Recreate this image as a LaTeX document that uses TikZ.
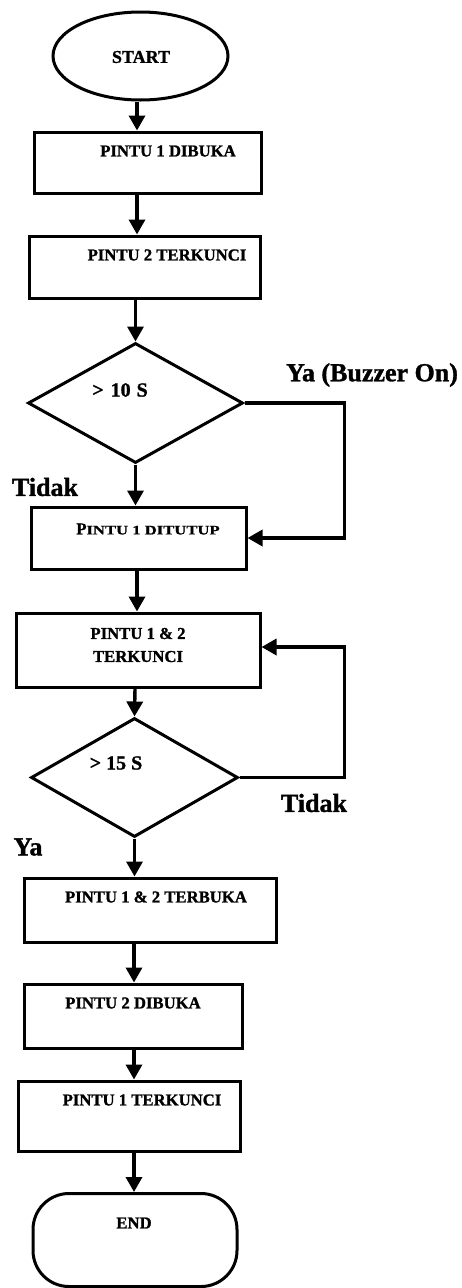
\documentclass[tikz,border=0pt]{standalone}
\usepackage{fontspec}
\setmainfont{Liberation Serif}[BoldFeatures={FakeBold=1.2}]
\newfontfamily\scfont{Liberation Serif}[FakeStretch=1.28,BoldFeatures={FakeBold=1.2}]
\usetikzlibrary{shapes.geometric,arrows.meta,calc}
\begin{document}
\begin{tikzpicture}[x=1pt,y=-1pt,
  outl/.style={draw=black,line width=3pt,inner sep=0pt},
  box/.style={outl,rectangle},
  dia/.style={outl,diamond},
  txt/.style={inner sep=0pt,font=\fontsize{16.7}{23}\selectfont\bfseries},
  dtxt/.style={inner sep=0pt,font=\fontsize{20}{24}\selectfont\bfseries},
  lbl/.style={inner sep=0pt,font=\fontsize{26}{30}\selectfont\bfseries},
  arr/.style={line width=3.4pt,-{Triangle[length=15pt,width=16pt]}}]
\useasboundingbox[fill=white] (0,0) rectangle (462,1288);

% shapes
\node[outl,ellipse,minimum width=175pt,minimum height=88pt] (start) at (140.5,56) {};
\node[box,minimum width=227pt,minimum height=61pt] (b1) at (147.5,162.5) {};
\node[box,minimum width=231pt,minimum height=62pt] (b2) at (144.5,267) {};
\node[dia,minimum width=215pt,minimum height=120pt] (d1) at (135.5,403) {};
\node[box,minimum width=215pt,minimum height=62pt] (b3) at (138.5,538) {};
\node[box,minimum width=244pt,minimum height=74pt] (b4) at (138,650) {};
\node[dia,minimum width=207pt,minimum height=119pt] (d2) at (134.5,777.5) {};
\node[box,minimum width=252pt,minimum height=64pt] (b5) at (150,910) {};
\node[box,minimum width=218pt,minimum height=64pt] (b6) at (133,1016) {};
\node[box,minimum width=222pt,minimum height=70pt] (b7) at (129,1116) {};
\node[box,rounded corners=36pt,minimum width=204pt,minimum height=93pt] (end) at (135,1240) {};

% texts
\node[txt,font=\fontsize{18}{22}\selectfont\bfseries] (t0) at (141,57) {START};
\node[txt] (t1) at (168,151) {PINTU 1 DIBUKA};
\node[txt] (t2) at (167,255) {PINTU 2 TERKUNCI};
\node[dtxt] (t3) at (120,390) {>\hspace{7pt}10\hspace{6pt}S};
\node[txt] (t4) at (148,529) {P{\scfont\fontsize{13}{16}\selectfont\bfseries INTU 1 DITUTUP}};
\node[txt,align=center] (t5) at (138,645) {PINTU 1 \& 2\\TERKUNCI};
\node[dtxt] (t6) at (116,763) {> 15 S};
\node[txt] (t7) at (156,897) {PINTU 1 \& 2 TERBUKA};
\node[txt] (t8) at (133,1003) {PINTU 2 DIBUKA};
\node[txt] (t9) at (142,1100) {PINTU 1 TERKUNCI};
\node[txt] (t10) at (134,1223) {END};

% labels
\node[lbl] (ya1) at (372,375) {Ya (Buzzer On)};
\node[lbl] (tidak1) at (45,487) {Tidak};
\node[lbl] (tidak2) at (314,803) {Tidak};
\node[lbl] (ya2) at (28,847) {Ya};

% x positions of the vertical connectors
\coordinate (xa) at (137,0);
\coordinate (xb) at (135,0);
\coordinate (xc) at (134,0);

% connectors
\draw[arr] (start.south -| xa) -- (b1.north -| xa);
\draw[arr] (b1.south -| xa) -- (b2.north -| xa);
\draw[arr] (b2.south -| d1.north) -- (d1.north);
\draw[arr] (d1.south) -- (b3.north -| d1.south);
\draw[arr] (b3.south -| xa) -- (b4.north -| xa);
\draw[arr] (b4.south -| xb) -- (d2.north);
\draw[arr] (d2.south) -- (b5.north -| d2.south);
\draw[arr] (b5.south -| xc) -- (b6.north -| xc);
\draw[arr] (b6.south -| xc) -- (b7.north -| xc);
\draw[arr] (b7.south -| xc) -- (end.north -| xc);

% loops
\draw[arr] (d1.east) -- ++(100,0) |- (b3.east);
\draw[arr] (d2.east) -- ++(105,0) |- ($(b4.east)+(0,-3)$);
\end{tikzpicture}
\end{document}
